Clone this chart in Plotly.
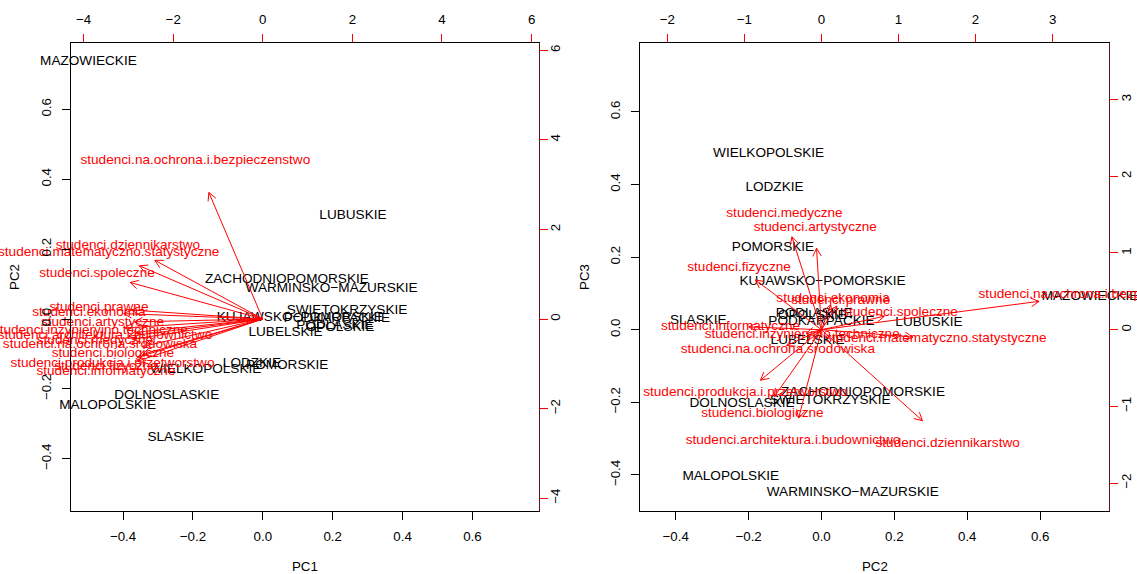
import numpy as np
import plotly.graph_objects as go

W, H = 1137, 574

# ---------------- data ----------------
regions = ["DOLNOSLASKIE", "KUJAWSKO−POMORSKIE", "LUBELSKIE", "LUBUSKIE", "LODZKIE",
           "MALOPOLSKIE", "MAZOWIECKIE", "OPOLSKIE", "PODKARPACKIE", "PODLASKIE",
           "POMORSKIE", "SLASKIE", "SWIETOKRZYSKIE", "WARMINSKO−MAZURSKIE",
           "WIELKOPOLSKIE", "ZACHODNIOPOMORSKIE"]
score_pc1 = [-0.275, 0.106, 0.065, 0.258, -0.031, -0.444, -0.499, 0.221, 0.212, 0.206,
             0.070, -0.249, 0.241, 0.197, -0.163, 0.069]
score_pc2 = [-0.218, 0.003, -0.038, 0.295, -0.129, -0.249, 0.737, -0.025, 0.000, -0.020,
             -0.133, -0.338, 0.024, 0.086, -0.145, 0.114]
score_pc3 = [-0.203, 0.132, -0.031, 0.020, 0.391, -0.404, 0.092, 0.038, 0.021, 0.045,
             0.227, 0.024, -0.194, -0.450, 0.485, -0.174]

variables = ["studenci.artystyczne", "studenci.architektura.i.budownictwo",
             "studenci.biologiczne", "studenci.dziennikarstwo", "studenci.ekonomia",
             "studenci.fizyczne", "studenci.informatyczne",
             "studenci.inzynieryjno.techniczne", "studenci.matematyczno.statystyczne",
             "studenci.medyczne", "studenci.na.ochrona.i.bezpieczenstwo",
             "studenci.na.ochrona.srodowiska", "studenci.prawne",
             "studenci.produkcja.i.przetworstwo", "studenci.spoleczne"]
load_pc1 = [-3.579, -3.524, -3.345, -3.011, -3.880, -3.500, -3.501, -3.850, -3.440,
            -3.747, -1.505, -3.635, -3.657, -3.356, -3.702]
load_pc2 = [-0.080, -0.370, -0.766, 1.638, 0.150, -1.070, -1.180, -0.250, 1.485,
            -0.480, 3.530, -0.566, 0.250, -0.990, 1.020]
load_pc3 = [1.326, -1.439, -1.091, -1.482, 0.410, 0.810, 0.046, -0.063, -0.120,
            1.513, 0.462, -0.258, 0.385, -0.823, 0.219]

# ---------------- layout geometry ----------------
d1 = [71.3 / W, 538.5 / W]
d2 = [640.0 / W, 1109.0 / W]
yd = [(H - 510.5) / H, (H - 43.3) / H]
lim1 = [-0.548, 0.789]
lim2 = [-0.498, 0.789]
ratio1 = 7.8
ratio2 = 4.73
lim1s = [lim1[0] * ratio1, lim1[1] * ratio1]
lim2s = [lim2[0] * ratio2, lim2[1] * ratio2]

FONT = "Liberation Sans, Arial, Helvetica, sans-serif"
FS = 13.3
FT = 13.6
RED = "#FF0000"


def arrows(u, v, xdom, xr, yr, head=9.0, ang=np.deg2rad(28)):
    sx = (xdom[1] - xdom[0]) * W / (xr[1] - xr[0])
    sy = (yd[1] - yd[0]) * H / (yr[1] - yr[0])
    xs, ys = [], []
    for a, b in zip(u, v):
        ex, ey = 0.8 * a, 0.8 * b
        dx, dy = ex * sx, ey * sy
        n = np.hypot(dx, dy)
        ux, uy = dx / n, dy / n
        xs += [0, ex, None]
        ys += [0, ey, None]
        for s in (ang, -ang):
            rx = ux * np.cos(s) - uy * np.sin(s)
            ry = ux * np.sin(s) + uy * np.cos(s)
            xs += [ex - head * rx / sx, ex, None]
            ys += [ey - head * ry / sy, ey, None]
    return xs, ys


fig = go.Figure()

# ---- left panel: PC1 vs PC2 ----
fig.add_trace(go.Scatter(x=score_pc1, y=score_pc2, mode="text", text=regions,
                         textfont=dict(family=FONT, size=FT, color="black"),
                         xaxis="x", yaxis="y", cliponaxis=False, hoverinfo="skip"))
fig.add_trace(go.Scatter(x=load_pc1, y=load_pc2, mode="text", text=variables,
                         textfont=dict(family=FONT, size=FT, color=RED),
                         xaxis="x3", yaxis="y3", cliponaxis=False, hoverinfo="skip"))
ax, ay = arrows(load_pc1, load_pc2, d1, lim1s, lim1s)
fig.add_trace(go.Scatter(x=ax, y=ay, mode="lines", line=dict(color=RED, width=1),
                         xaxis="x3", yaxis="y3", hoverinfo="skip"))

# ---- right panel: PC2 vs PC3 ----
fig.add_trace(go.Scatter(x=score_pc2, y=score_pc3, mode="text", text=regions,
                         textfont=dict(family=FONT, size=FT, color="black"),
                         xaxis="x2", yaxis="y2", cliponaxis=False, hoverinfo="skip"))
fig.add_trace(go.Scatter(x=load_pc2, y=load_pc3, mode="text", text=variables,
                         textfont=dict(family=FONT, size=FT, color=RED),
                         xaxis="x4", yaxis="y4", cliponaxis=False, hoverinfo="skip"))
bx, by = arrows(load_pc2, load_pc3, d2, lim2s, lim2s)
fig.add_trace(go.Scatter(x=bx, y=by, mode="lines", line=dict(color=RED, width=1),
                         xaxis="x4", yaxis="y4", hoverinfo="skip"))

tickfont = dict(family=FONT, size=FS, color="black")
prim_ticks = [-0.4, -0.2, 0.0, 0.2, 0.4, 0.6]


def base(**kw):
    d = dict(showgrid=False, zeroline=False, showline=True, linecolor="black", linewidth=1,
             ticks="outside", ticklen=8, tickwidth=1, tickcolor="black",
             tickfont=tickfont, automargin=False, fixedrange=True)
    d.update(kw)
    return d


fig.update_layout(
    width=W, height=H, margin=dict(l=0, r=0, t=0, b=0),
    paper_bgcolor="white", plot_bgcolor="white", showlegend=False,
    xaxis=base(domain=d1, range=lim1, anchor="y", side="bottom", tickvals=prim_ticks,
               tickformat=".1f", ticklabelstandoff=6),
    yaxis=base(domain=yd, range=lim1, anchor="x", side="left", tickvals=prim_ticks,
               tickformat=".1f", tickangle=-90, ticklabelstandoff=6),
    xaxis3=base(range=lim1s, overlaying="x", anchor="y", side="top",
                tickvals=[-4, -2, 0, 2, 4, 6], tickcolor=RED, ticklabelstandoff=5),
    yaxis3=base(range=lim1s, overlaying="y", anchor="x", side="right",
                tickvals=[-4, -2, 0, 2, 4, 6], tickcolor=RED, tickangle=-90,
                linecolor="#5a1212", ticklabelstandoff=-3),
    xaxis2=base(domain=d2, range=lim2, anchor="y2", side="bottom", tickvals=prim_ticks,
                tickformat=".1f", ticklabelstandoff=6),
    yaxis2=base(domain=yd, range=lim2, anchor="x2", side="left", tickvals=prim_ticks,
                tickformat=".1f", tickangle=-90, ticklabelstandoff=6),
    xaxis4=base(range=lim2s, overlaying="x2", anchor="y2", side="top",
                tickvals=[-2, -1, 0, 1, 2, 3], tickcolor=RED, ticklabelstandoff=5),
    yaxis4=base(range=lim2s, overlaying="y2", anchor="x2", side="right",
                tickvals=[-2, -1, 0, 1, 2, 3], tickcolor=RED, tickangle=-90,
                linecolor="#5a1212", ticklabelstandoff=-3),
)

titles = [("PC1", (d1[0] + d1[1]) / 2, 8 / H, 0), ("PC2", (d2[0] + d2[1]) / 2, 8 / H, 0),
          ("PC2", 15 / W, (yd[0] + yd[1]) / 2, -90), ("PC3", 585 / W, (yd[0] + yd[1]) / 2, -90)]
for t, x, y, a in titles:
    fig.add_annotation(text=t, x=x, y=y, xref="paper", yref="paper", showarrow=False,
                       textangle=a, xanchor="center", yanchor="middle",
                       font=dict(family=FONT, size=FS, color="black"))

fig.write_html("out.html")
